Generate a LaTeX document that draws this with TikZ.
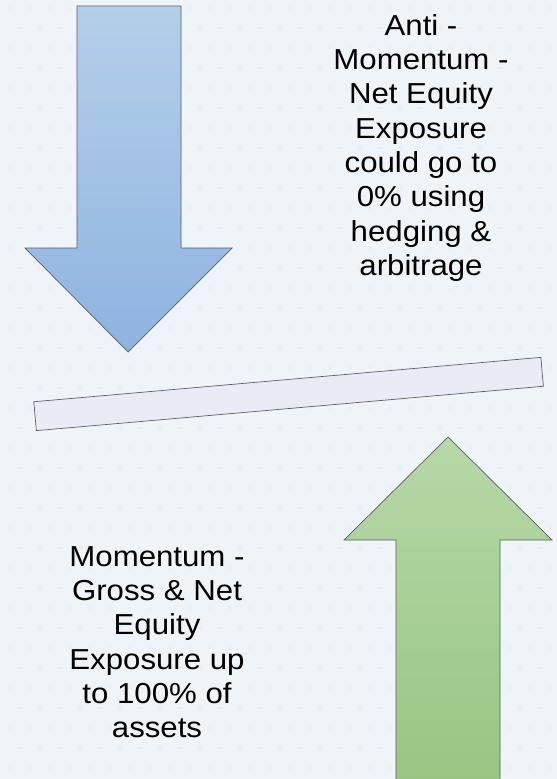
\documentclass[tikz,border=0pt]{standalone}
\usepackage{fontspec}
\setmainfont[FakeStretch=1.08]{Liberation Sans}
\definecolor{bgc}{HTML}{EEF4F7}
\definecolor{dotc}{HTML}{DCE3E8}
\definecolor{bluetop}{HTML}{B5CFEA}
\definecolor{bluebot}{HTML}{8EB3E0}
\definecolor{greentop}{HTML}{B6D8A8}
\definecolor{greenbot}{HTML}{98C682}
\definecolor{barfill}{HTML}{E9ECF5}
\definecolor{edgec}{HTML}{5A5F66}
\tikzset{
  bigarrow/.style={draw=edgec, line width=0.7bp, line join=miter},
  label/.style={anchor=north, inner sep=0pt, align=center, text=black,
    font=\fontsize{29}{34.5}\selectfont},
}
\begin{document}
\begin{tikzpicture}[x=1bp,y=-1bp]
\useasboundingbox (0,0) rectangle (557,779);
\fill[bgc] (0,0) rectangle (557,779);
\foreach \i in {0,...,27}{\foreach \j in {0,...,38}{
  \fill[dotc] ({10+\i*20+mod(\j,2)*10},{8+\j*20}) circle (0.9);}}
% blue down arrow
\shade[top color=bluetop, bottom color=bluebot, bigarrow]
  (77,6) -- (181,6) -- (181,248) -- (232,248) -- (128,352) -- (25,248) -- (77,248) -- cycle;
% green up arrow
\shade[top color=greentop, bottom color=greenbot, bigarrow]
  (396,782) -- (396,540) -- (344,540) -- (448,437) -- (552,540) -- (500,540) -- (500,782);
% tilted bar
\node[draw=edgec, fill=barfill, line width=0.7bp, rectangle, minimum width=509bp,
  minimum height=29bp, inner sep=0pt, rotate=5] (bar) at (288.6,394) {};
% texts
\node[label] (anti) at (421,14) {Anti -\\Momentum -\\Net Equity\\Exposure\\could go to\\0\% using\\hedging \&\\arbitrage};
\node[label] (mom) at (157,546) {Momentum -\\Gross \& Net\\Equity\\Exposure up\\to 100\% of\\assets};
\end{tikzpicture}
\end{document}
